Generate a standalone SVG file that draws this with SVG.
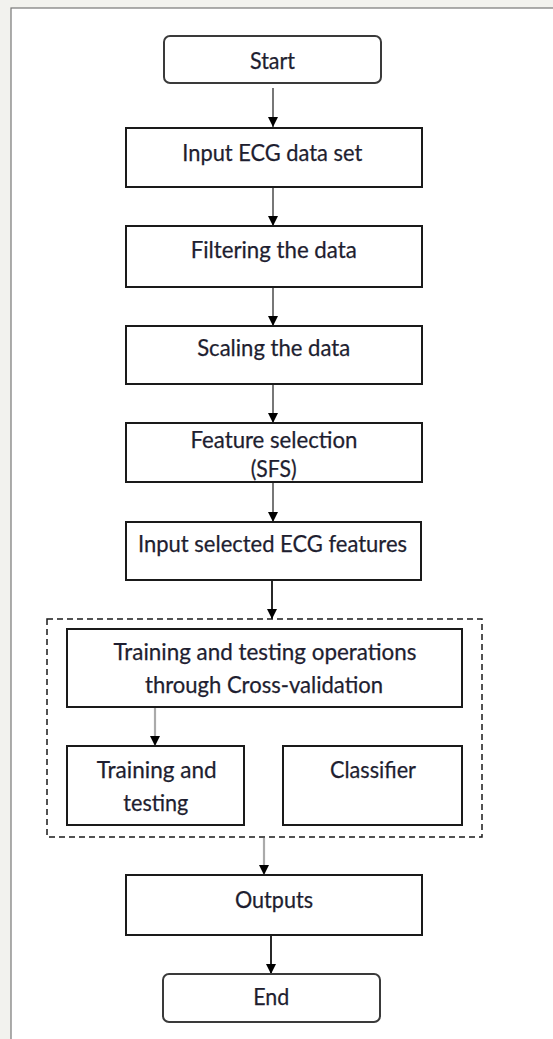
<svg xmlns="http://www.w3.org/2000/svg" width="553" height="1039" viewBox="0 0 553 1039">
<style>
.box{fill:#fff;stroke:#1a1a1a;stroke-width:2}
.term{fill:#fff;stroke:#3a3a3a;stroke-width:2}
.dash{fill:none;stroke:#1a1a1a;stroke-width:1.5;stroke-dasharray:6 4}
text{font-family:Lato,"Open Sans","Liberation Sans",sans-serif;font-size:23px;fill:#1e1e30;stroke:#1e1e30;stroke-width:0.25;text-anchor:middle}
.c1{stroke:#555;stroke-width:1.6;fill:none}
.c2{stroke:#111;stroke-width:1.8;fill:none}
.c3{stroke:#aaa;stroke-width:2.2;fill:none}
</style>
<defs>
<marker id="ah" viewBox="0 0 10 10" refX="10" refY="5" markerWidth="11" markerHeight="10" markerUnits="userSpaceOnUse" orient="auto">
<path d="M0,0 L10,5 L0,10 z" fill="#000"/>
</marker>
</defs>
<rect x="0" y="0" width="553" height="1039" fill="#f2f2ee"/>
<rect x="11" y="8" width="600" height="1100" fill="#fff" stroke="#777" stroke-width="1.2"/>

<g id="connectors">
<line class="c1" x1="273" y1="88" x2="273" y2="127" marker-end="url(#ah)"/>
<line class="c1" x1="273" y1="187" x2="273" y2="226" marker-end="url(#ah)"/>
<line class="c1" x1="273" y1="287" x2="273" y2="326" marker-end="url(#ah)"/>
<line class="c1" x1="273" y1="384" x2="273" y2="423" marker-end="url(#ah)"/>
<line class="c1" x1="273" y1="482" x2="273" y2="522" marker-end="url(#ah)"/>
<line class="c2" x1="272" y1="580" x2="272" y2="619" marker-end="url(#ah)"/>
<line class="c3" x1="155" y1="707" x2="155" y2="746" marker-end="url(#ah)"/>
<line class="c3" x1="264" y1="838" x2="264" y2="875" marker-end="url(#ah)"/>
<line class="c2" x1="271" y1="935" x2="271" y2="974" marker-end="url(#ah)"/>
</g>

<g id="start">
<rect class="term" x="164" y="36" width="217" height="47" rx="6"/>
<text x="272.5" y="69" textLength="45" lengthAdjust="spacingAndGlyphs">Start</text>
</g>
<g id="input">
<rect class="box" x="126" y="128" width="296" height="59"/>
<text x="272.3" y="161" textLength="180" lengthAdjust="spacingAndGlyphs">Input ECG data set</text>
</g>
<g id="filtering">
<rect class="box" x="126" y="226" width="296" height="61"/>
<text x="273.7" y="258" textLength="166" lengthAdjust="spacingAndGlyphs">Filtering the data</text>
</g>
<g id="scaling">
<rect class="box" x="126" y="326" width="296" height="58"/>
<text x="273.7" y="356" textLength="153" lengthAdjust="spacingAndGlyphs">Scaling the data</text>
</g>
<g id="feature">
<rect class="box" x="126" y="423" width="296" height="59"/>
<text x="274" y="448" textLength="167" lengthAdjust="spacingAndGlyphs">Feature selection</text>
<text x="273.7" y="477" textLength="46" lengthAdjust="spacingAndGlyphs">(SFS)</text>
</g>
<g id="selected">
<rect class="box" x="126" y="522" width="295" height="58"/>
<text x="272.5" y="552" textLength="269" lengthAdjust="spacingAndGlyphs">Input selected ECG features</text>
</g>
<g id="crossval-group">
<rect class="dash" x="47" y="619" width="435" height="218"/>
</g>
<g id="crossval">
<rect class="box" x="67" y="629" width="395" height="78"/>
<text x="265" y="660" textLength="303" lengthAdjust="spacingAndGlyphs">Training and testing operations</text>
<text x="264" y="693" textLength="238" lengthAdjust="spacingAndGlyphs">through Cross-validation</text>
</g>
<g id="trainingtesting">
<rect class="box" x="67" y="746" width="177" height="79"/>
<text x="156.7" y="778" textLength="120" lengthAdjust="spacingAndGlyphs">Training and</text>
<text x="155.8" y="811" textLength="65" lengthAdjust="spacingAndGlyphs">testing</text>
</g>
<g id="classifier">
<rect class="box" x="283" y="746" width="179" height="79"/>
<text x="373" y="778" textLength="86" lengthAdjust="spacingAndGlyphs">Classifier</text>
</g>
<g id="outputs">
<rect class="box" x="126" y="875" width="296" height="60"/>
<text x="274" y="908" textLength="78" lengthAdjust="spacingAndGlyphs">Outputs</text>
</g>
<g id="end">
<rect class="term" x="163" y="974" width="217" height="48" rx="6"/>
<text x="271.3" y="1005" textLength="36" lengthAdjust="spacingAndGlyphs">End</text>
</g>
</svg>
